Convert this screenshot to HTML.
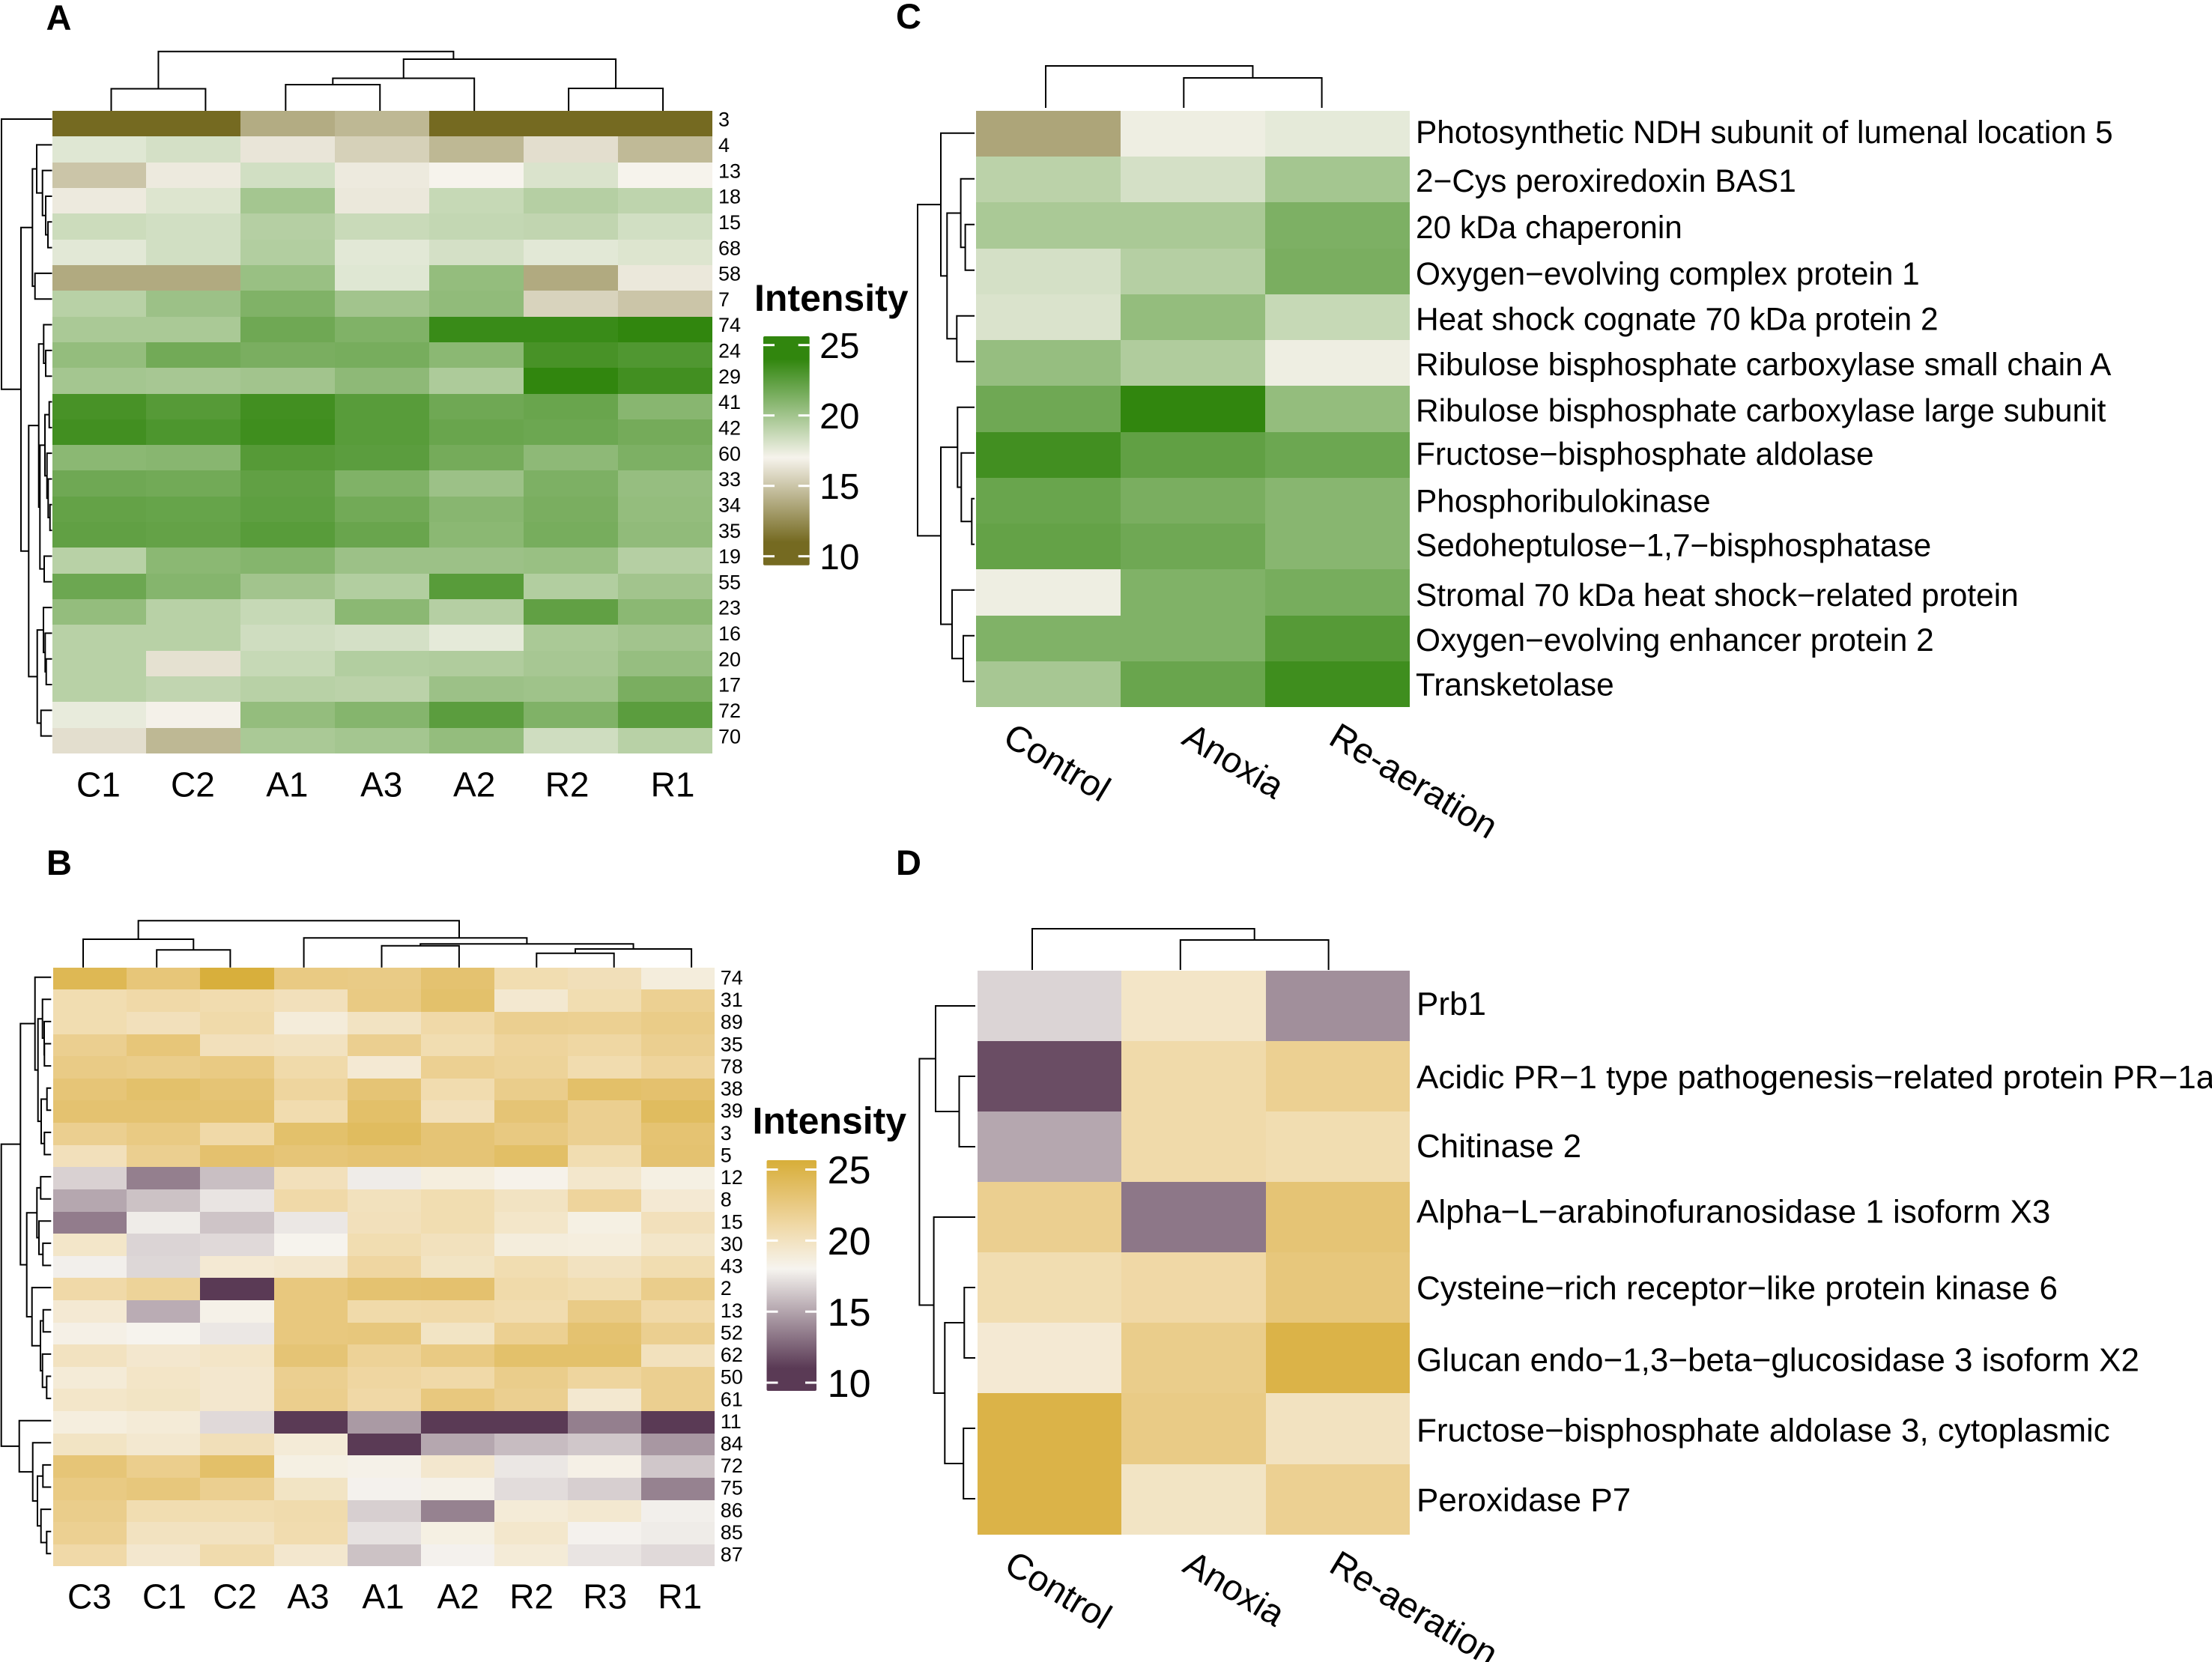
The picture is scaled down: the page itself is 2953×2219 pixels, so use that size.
<!DOCTYPE html>
<html lang="en">
<head>
<meta charset="utf-8">
<title>Protein intensity heatmaps</title>
<style>
html,body{margin:0;padding:0;background:#fff;}
svg{display:block;font-family:"Liberation Sans",Arial,sans-serif;}
</style>
</head>
<body>
<svg id="figure" xmlns="http://www.w3.org/2000/svg" width="2953" height="2219" viewBox="0 0 2953 2219">
  <rect x="0" y="0" width="2953" height="2219" fill="#ffffff"/>
  <defs id="grads"></defs>
  <text x="61.5" y="40" font-size="47" font-weight="700">A</text>
  <text x="62" y="1168" font-size="47" font-weight="700">B</text>
  <text x="1196" y="38" font-size="47" font-weight="700">C</text>
  <text x="1196" y="1168" font-size="47" font-weight="700">D</text>
  <text x="1007" y="415" font-size="50" font-weight="700">Intensity</text>
  <text x="1004.5" y="1513.5" font-size="50" font-weight="700">Intensity</text>
</svg>
<script>
// ---------- colour ramps (value -> colour) ----------
const greenRampValues = [11, 17, 24];
const greenRampColors = ['#756a21', '#f6f3ec', '#31860e'];
const goldRampValues = [11, 18, 21, 23, 25.5];
const goldRampColors = ['#5a3a55', '#f6f4ef', '#f0d9a8', '#e6c577', '#d8af3c'];
const legendTicks = [25, 20, 15, 10];

// ---------- panel A ----------
const panelACols = ['C1', 'C2', 'A1', 'A3', 'A2', 'R2', 'R1'];
const panelARows = ['3','4','13','18','15','68','58','7','74','24','29','41','42','60','33','34','35','19','55','23','16','20','17','72','70'];
const panelAValues = [
  [10.5,10.5,13.9,14.4,10.5,10.5,10.5],
  [17.8,18.2,16.4,15.5,14.4,16.1,14.5],
  [15,16.6,18.3,16.6,17,18,17],
  [16.6,17.9,19.9,16.5,18.7,19.3,19],
  [18.5,18.3,19.3,18.6,18.8,18.9,18.3],
  [17.7,18.3,19.4,17.7,18.2,17.7,17.9],
  [13.8,13.8,20.3,17.8,20.5,13.8,16.5],
  [19.2,20.2,21.2,20,20.6,15.6,15],
  [19.7,19.7,21.8,21.2,23.7,23.7,24],
  [20.5,21.7,21.4,21.5,20.8,23.2,22.9],
  [19.9,19.8,20,20.7,19.6,24,23.4],
  [23.2,22.7,23.4,22.6,21.8,22,20.9],
  [23.4,23,23.5,22.6,22,21.9,21.6],
  [20.8,20.9,22.7,22.5,21.6,20.7,21.3],
  [21.8,21.7,22.3,21.2,20.2,21.3,20.4],
  [22.2,22.1,22.4,21.7,20.9,21.4,20.5],
  [22.3,22.2,22.6,22,20.8,21.5,20.6],
  [19.2,20.8,21,20.2,20.2,20.3,19.3],
  [21.9,21,20,19.4,22.6,19.4,20],
  [20.5,19.2,18.7,20.8,19.3,22.3,20.8],
  [19.2,19.2,18.4,18.2,17.6,19.7,20],
  [19.2,16.2,18.7,19.4,19.5,19.8,20.4],
  [19.2,18.9,19.2,19.1,20.2,20.1,21.4],
  [17.5,16.9,20.5,21,22.5,21.2,22.5],
  [16.1,14.4,19.7,19.9,20.5,18.4,19.2]
];
const panelAColNudge = [-1,-1,-1,-1,-3,-5,10];
const panelATopTree = [[0,1,29.5],[[[2,3,35],4,43.5],[5,6,30],69,-75],79.3];
const panelALeftTree = [0,[
  [[1,[2,[3,[4,5,6],9],13.3],21],[6,7,23.3],26.7],
  [[[8,[9,10,9],11.7],[[[11,12,4.3],[13,[14,[15,16,3.3],5.7],7.3],10],[17,18,11],16.7],18.3],
   [[19,[20,[21,22,8.3],9.7],12],[23,24,15.3],20.3],31.7],
  42],68];

// ---------- panel B ----------
const panelBCols = ['C3','C1','C2','A3','A1','A2','R2','R3','R1'];
const panelBRows = ['74','31','89','35','78','38','39','3','5','12','8','15','30','43','2','13','52','62','50','61','11','84','72','75','86','85','87'];
const panelBValues = [
  [24.5,22.9,25.5,22.5,22.4,23.3,20.6,20.3,18.8],
  [20.6,21,20.7,20.2,22.5,23.5,19.3,20.6,21.9],
  [20.6,20.2,20.9,18.9,19.9,21,22,21.9,22.3],
  [22,22.9,20.2,20,22,20.6,21.5,21.2,22],
  [22.4,22.2,22.5,20.9,19.2,21.9,21.6,20.7,21.5],
  [23,23.5,23.1,21.4,23.1,20.7,22.2,23.6,23.4],
  [23.3,23.3,23.3,20.7,23.6,20.2,23.1,22,24],
  [22,22.5,21,23.5,24,23.1,22.6,22,23.2],
  [20.2,22,23.4,23,23.2,23.1,23.7,20.6,23.3],
  [16.7,13.6,16,20.2,17.7,18.7,18.2,19.5,18.5],
  [15.1,16.1,17.4,21,20.1,20.6,19.9,21.5,19.2],
  [13.5,17.7,16.2,17.5,20.2,20.6,19.6,18.5,20.2],
  [19.6,16.8,17,18.1,20.6,20.1,18.8,18.7,19.6],
  [17.8,16.9,19.2,19.4,21.3,19.8,20.6,20,20.6],
  [21,21.6,10.5,22.7,23.3,23.4,20.9,20.6,22.2],
  [19.2,15.3,18.3,22.7,20.9,21,20.7,22.4,21],
  [18.4,18.1,17.5,22.7,22.8,19.8,21.9,23.3,22],
  [20,19.4,19.7,23.1,21.7,22.5,23.5,23.5,20.1],
  [19,19.7,19.4,22,21.3,21,22.2,21.4,22],
  [19.6,19.8,19.4,22.1,21.1,22.7,22,19.3,22],
  [18.7,19,17,10.5,14.6,10.5,10.5,13.6,10.5],
  [19.8,19.3,20.3,19,10.5,15.1,15.9,16.3,14.5],
  [23,22.1,23.6,18.5,18.3,19.4,17.5,18.4,16.3],
  [22.5,22.8,22,19.8,17.9,18.3,17.1,16.6,13.7],
  [22.2,20.6,20.6,20.8,16.6,13.7,19,19.3,17.8],
  [21.9,20,20,20.7,17.3,18.5,19.5,17.9,17.7],
  [21,19.4,20.8,19.4,16.1,17.9,19,17.4,17]
];
const panelBColNudge = [-1,1,-3,-3,-1,1,1,1,3];
const panelBTopTree = [[0,[1,2,23.4],37.7],[3,[[4,5,29],[[6,7,19],8,24.7],31.4],39.4,58.5],62.4];
const panelBLeftTree = [
  [[0,[[1,[2,[3,4,10.7],11],13.3],[[5,6,7.3],[7,8,10.7],15],19.3],23.3],
   [[[9,10,15.7],[11,[12,13,12.7],18],20.7],[14,[[15,16,12.3],[17,[18,19,7.7],13.3],16],27.3],34.3],
   42.7],
  [20,[21,[[22,23,12.7],[24,[25,26,7.7],15.3],20],26.3],44.3],
  68.3];

// ---------- panel C ----------
const panelCCols = ['Control','Anoxia','Re-aeration'];
const panelCRows = [
  'Photosynthetic NDH subunit of lumenal location 5',
  '2\u2212Cys peroxiredoxin BAS1',
  '20 kDa chaperonin',
  'Oxygen\u2212evolving complex protein 1',
  'Heat shock cognate 70 kDa protein 2',
  'Ribulose bisphosphate carboxylase small chain A',
  'Ribulose bisphosphate carboxylase large subunit',
  'Fructose\u2212bisphosphate aldolase',
  'Phosphoribulokinase',
  'Sedoheptulose\u22121,7\u2212bisphosphatase',
  'Stromal 70 kDa heat shock\u2212related protein',
  'Oxygen\u2212evolving enhancer protein 2',
  'Transketolase'
];
const panelCValues = [
  [13.6,17.3,17.6],
  [19.1,18.2,19.9],
  [19.7,19.7,21.3],
  [18.2,19.3,21.4],
  [18,20.5,18.7],
  [20.4,19.5,17.3],
  [21.8,24,20.5],
  [23.4,22.3,21.9],
  [22,21.4,20.9],
  [22.2,21.8,20.9],
  [17.3,21.2,21.5],
  [21.2,21.2,22.7],
  [19.8,22,23.5]
];
const panelCBaselineNudge = [12.4,16,17,17.6,17,16.3,16.3,13.5,15,13,18,17,15];
const panelCTopTree = [0,[1,2,40],56];
const panelCLeftTree = [
  [0,[[1,[2,3,14.7],20.7],[4,5,26],39],47.3],
  [[6,[7,[8,9,6],20],25],[10,[11,12,17.3],32.3],47.3],
  78.3];

// ---------- panel D ----------
const panelDCols = ['Control','Anoxia','Re-aeration'];
const panelDRows = [
  'Prb1',
  'Acidic PR\u22121 type pathogenesis\u2212related protein PR\u22121a',
  'Chitinase 2',
  'Alpha\u2212L\u2212arabinofuranosidase 1 isoform X3',
  'Cysteine\u2212rich receptor\u2212like protein kinase 6',
  'Glucan endo\u22121,3\u2212beta\u2212glucosidase 3 isoform X2',
  'Fructose\u2212bisphosphate aldolase 3, cytoplasmic',
  'Peroxidase P7'
];
const panelDValues = [
  [16.8,19.7,14.2],
  [11.7,20.9,21.9],
  [15.1,20.9,20.6],
  [22,13.3,23.1],
  [20.6,21.1,22.8],
  [19.2,22.2,25],
  [25,22.4,20],
  [25,19.8,21.9]
];
const panelDBaselineNudge = [12,16,13.7,7,15,17,17,16];
const panelDTopTree = [0,[1,2,40],55];
const panelDLeftTree = [
  [0,[1,2,21.5],53],
  [3,[[4,5,14.7],[6,7,15.8],40.7],55.4],
  74.6];

// ---------- helpers ----------
const NS = 'http://www.w3.org/2000/svg';
const root = document.getElementById('figure');
function mk(tag, parent, attrs) {
  const el = document.createElementNS(NS, tag);
  for (const k in attrs) el.setAttribute(k, attrs[k]);
  parent.appendChild(el);
  return el;
}
function hex(c) {
  return [parseInt(c.slice(1,3),16), parseInt(c.slice(3,5),16), parseInt(c.slice(5,7),16)];
}
function colorScale(domain, colors) {
  return function (v) {
    if (v <= domain[0]) return colors[0];
    if (v >= domain[domain.length-1]) return colors[colors.length-1];
    let i = 0;
    while (v > domain[i+1]) i++;
    const t = (v - domain[i]) / (domain[i+1] - domain[i]);
    const a = hex(colors[i]), b = hex(colors[i+1]);
    const m = a.map(function (x, j) { return Math.round(x + (b[j]-x)*t); });
    return 'rgb(' + m.join(',') + ')';
  };
}
const greenColor = colorScale(greenRampValues, greenRampColors);
const goldColor = colorScale(goldRampValues, goldRampColors);

function drawCells(panel, box, rows, cols, values, color) {
  const group = mk('g', root, {'shape-rendering':'crispEdges'});
  
  
  const cw = (box.x1 - box.x0) / cols.length;
  const rh = (box.y1 - box.y0) / rows.length;
  values.forEach(function (row, r) {
    row.forEach(function (v, c) {
      const x0 = Math.round(box.x0 + c*cw), x1 = Math.round(box.x0 + (c+1)*cw);
      const y0 = Math.round(box.y0 + r*rh), y1 = Math.round(box.y0 + (r+1)*rh);
      const cell = mk('rect', group, {x:x0, y:y0, width:x1-x0, height:y1-y0, fill:color(v)});
      
      
    });
  });
}

function drawTree(panel, side, tree, base, gap, leafPos) {
  const group = mk('g', root, {fill:'none', stroke:'#000', 'stroke-width':2, 'stroke-linejoin':'miter'});
  
  
  function pt(along, h) {
    const level = base - h;
    return side === 'top' ? along + ',' + level : level + ',' + along;
  }
  function walk(node) {
    if (typeof node === 'number') return {p: leafPos(node), h: gap};
    const a = walk(node[0]), b = walk(node[1]);
    const h = node[2];
    const d = 'M' + pt(a.p, a.h) + ' L' + pt(a.p, h) + ' L' + pt(b.p, h) + ' L' + pt(b.p, b.h);
    const link = mk('path', group, {d: d});
    
    
    return {p: (a.p + b.p) / 2 + (node[3] || 0), h: h};
  }
  walk(tree);
}

function drawLabel(parent, text, x, y, size, name, transform) {
  const t = mk('text', parent, {x:x, y:y, 'font-size':size, fill:'#000'});
  
  
  if (transform) t.setAttribute('transform', transform);
  t.textContent = text;
  return t;
}

function drawLegend(panel, color, domain, bar, tickRight, tickSize) {
  const yAt = function (v) { return bar.y25 + (25 - v) * bar.pxPerUnit; };
  const defs = document.getElementById('grads');
  const grad = mk('linearGradient', defs, {id:'grad-' + panel, x1:0, y1:0, x2:0, y2:1});
  const span = bar.y1 - bar.y0;
  domain.slice().reverse().forEach(function (v) {
    mk('stop', grad, {offset: (yAt(v) - bar.y0) / span, 'stop-color': color(v)});
  });
  const group = mk('g', root, {});
  
  
  const barRect = mk('rect', group, {x:bar.x0, y:bar.y0, width:bar.x1-bar.x0, height:span, rx:2, fill:'url(#grad-' + panel + ')'});
  
  
  legendTicks.forEach(function (v) {
    const y = yAt(v);
    [[bar.x0, bar.x0+15],[bar.x1-15, bar.x1]].forEach(function (seg) {
      const tick = mk('line', group, {x1:seg[0], x2:seg[1], y1:y, y2:y, stroke:'#fff', 'stroke-width':3});
      
      
    });
    const label = drawLabel(group, String(v), tickRight, y + tickSize * 0.36, tickSize, 'legend-tick-label');
    label.setAttribute('text-anchor', 'end');
  });
}

// ---------- small-number panels ----------
function drawClusterPanel(panel, box, rows, cols, values, colNudge, topTree, leftTree, topBase, leftBase, leftGap, colX, rowY, labelBase, rowLabelDy) {
  drawCells(panel, box, rows, cols, values, panel === 'a' ? greenColor : goldColor);
  drawTree(panel, 'top', topTree, topBase, 0, colX);
  drawTree(panel, 'left', leftTree, leftBase, leftGap, rowY);
  const labels = mk('g', root, {});
  
  
  const cw = (box.x1 - box.x0) / cols.length;
  const rh = (box.y1 - box.y0) / rows.length;
  rows.forEach(function (name, r) {
    drawLabel(labels, name, box.x1 + 8, box.y0 + (r + 0.5) * rh + rowLabelDy, 27, 'row-label');
  });
  cols.forEach(function (name, c) {
    const t = drawLabel(labels, name, box.x0 + (c + 0.5) * cw + colNudge[c], labelBase, 46, 'column-label');
    t.setAttribute('text-anchor', 'middle');
  });
}

// ---------- protein panels ----------
function drawProteinPanel(panel, box, rows, cols, values, color, nudge, topTree, leftTree, topBase, leftBase, leftGap, colX, rowY, xLabelStart, xLabelY, labelSize, labelX) {
  drawCells(panel, box, rows, cols, values, color);
  drawTree(panel, 'top', topTree, topBase, 0, colX);
  drawTree(panel, 'left', leftTree, leftBase, leftGap, rowY);
  const labels = mk('g', root, {});
  
  
  const rh = (box.y1 - box.y0) / rows.length;
  rows.forEach(function (name, r) {
    drawLabel(labels, name, labelX, box.y0 + (r + 0.5) * rh + nudge[r], labelSize, 'protein-label');
  });
  const cw = (box.x1 - box.x0) / cols.length;
  cols.forEach(function (name, c) {
    const x = box.x0 + (c + 0.5) * cw + xLabelStart[c];
    const y = xLabelY;
    drawLabel(labels, name, x, y, 48, 'condition-label', 'rotate(31 ' + x + ' ' + y + ')');
  });
}

// ---------- build ----------
drawClusterPanel('a', {x0:69.5, x1:951, y0:148, y1:1006}, panelARows, panelACols, panelAValues, panelAColNudge,
  panelATopTree, panelALeftTree, 148, 70, 0.5,
  function (i) { return 69.5 + (i + 0.5) * 125.93 + (i < 2 ? 16 : -3); },
  function (i) { return 159 + i * 34.32; },
  1063.5, 3.5);
drawClusterPanel('b', {x0:71.4, x1:953.7, y0:1291.7, y1:2091.4}, panelBRows, panelBCols, panelBValues, panelBColNudge,
  panelBTopTree, panelBLeftTree, 1291.7, 70, 1.7,
  function (i) { return i < 4 ? 111 + i * 98.2 : 509.5 + (i - 4) * 103.4; },
  function (i) { return 1304.7 + i * 29.6; },
  2147.5, 8);
drawProteinPanel('c', {x0:1303, x1:1882, y0:148, y1:944}, panelCRows, panelCCols, panelCValues, greenColor, panelCBaselineNudge,
  panelCTopTree, panelCLeftTree, 144, 1303.3, 2.3,
  function (i) { return 1396 + i * 184.3; },
  function (i) { return 177.8 + i * 61; },
  [-63, -17, -14], 992, 42.4, 1890);
drawProteinPanel('d', {x0:1305, x1:1882, y0:1296, y1:2048.6}, panelDRows, panelDCols, panelDValues, goldColor, panelDBaselineNudge,
  panelDTopTree, panelDLeftTree, 1295, 1302, 0,
  function (i) { return 1378 + i * 197.8; },
  function (i) { return 1343 + i * 94; },
  [-63, -17, -14], 2097, 44, 1891);
drawLegend('a', greenColor, greenRampValues, {x0:1019, x1:1080.7, y0:449, y1:754.7, y25:460.7, pxPerUnit:18.8}, 1147.5, 48);
drawLegend('b', goldColor, goldRampValues, {x0:1023.5, x1:1090, y0:1549, y1:1857, y25:1561.5, pxPerUnit:18.97}, 1162.5, 52);
</script>
</body>
</html>
